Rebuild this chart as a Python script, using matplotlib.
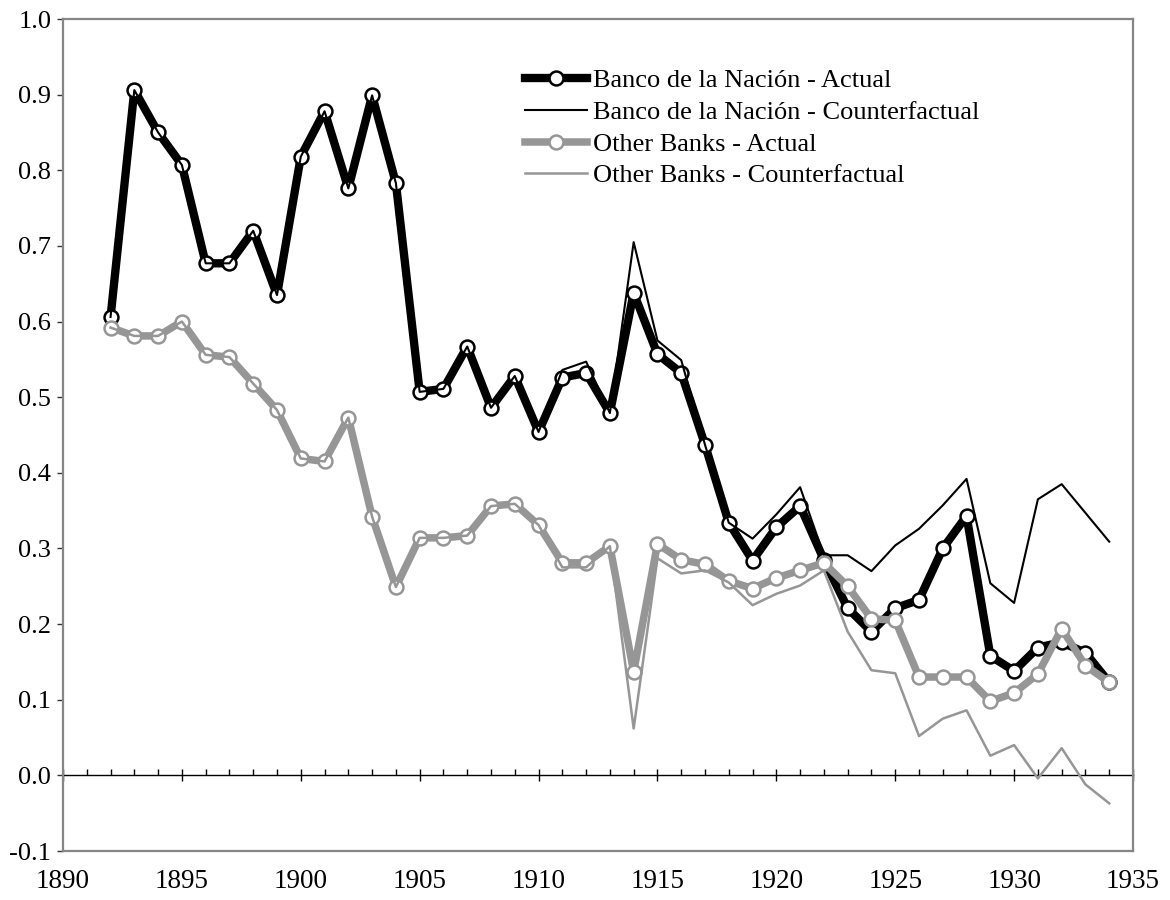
import matplotlib
matplotlib.use("Agg")
import matplotlib.pyplot as plt
from matplotlib.ticker import MultipleLocator, FuncFormatter

plt.rcParams['font.family'] = ['Liberation Serif', 'DejaVu Serif']

years = list(range(1892, 1935))

bn_actual = [0.606, 0.906, 0.850, 0.807, 0.677, 0.677, 0.720, 0.635, 0.818, 0.878,
             0.776, 0.899, 0.783, 0.507, 0.511, 0.567, 0.486, 0.528, 0.454, 0.526,
             0.532, 0.479, 0.638, 0.557, 0.532, 0.437, 0.334, 0.284, 0.328, 0.356,
             0.285, 0.221, 0.190, 0.221, 0.232, 0.300, 0.343, 0.158, 0.138, 0.169,
             0.176, 0.162, 0.123]

bn_cf = [0.606, 0.906, 0.850, 0.807, 0.677, 0.677, 0.720, 0.635, 0.818, 0.878,
         0.776, 0.899, 0.783, 0.507, 0.511, 0.567, 0.486, 0.528, 0.454, 0.536,
         0.547, 0.479, 0.705, 0.575, 0.549, 0.437, 0.334, 0.313, 0.345, 0.381,
         0.291, 0.291, 0.270, 0.304, 0.326, 0.357, 0.392, 0.254, 0.228, 0.365,
         0.385, 0.347, 0.309]

ob_actual = [0.592, 0.581, 0.581, 0.600, 0.556, 0.553, 0.518, 0.483, 0.419, 0.415,
             0.473, 0.342, 0.249, 0.314, 0.314, 0.317, 0.356, 0.359, 0.331, 0.281,
             0.281, 0.303, 0.137, 0.306, 0.285, 0.279, 0.257, 0.247, 0.261, 0.271,
             0.281, 0.250, 0.207, 0.205, 0.130, 0.130, 0.130, 0.098, 0.109, 0.134,
             0.194, 0.145, 0.123]

ob_cf = [0.592, 0.581, 0.581, 0.600, 0.556, 0.553, 0.518, 0.483, 0.419, 0.415,
         0.473, 0.342, 0.249, 0.314, 0.314, 0.317, 0.356, 0.359, 0.331, 0.275,
         0.275, 0.303, 0.062, 0.287, 0.267, 0.271, 0.255, 0.225, 0.240, 0.251,
         0.271, 0.190, 0.139, 0.135, 0.052, 0.075, 0.086, 0.026, 0.040, -0.004,
         0.036, -0.012, -0.037]

labels = ["Banco de la Nación - Actual", "Banco de la Nación - Counterfactual",
          "Other Banks - Actual", "Other Banks - Counterfactual"]

GRAY = "#969696"
SPINE = "#868686"

fig = plt.figure(figsize=(11.7, 9), dpi=100)
ax = fig.add_axes([63/1170, 1-851/900, (1133-63)/1170, (851-19)/900])

ax.plot(years, bn_actual, color="black", lw=6.0, marker="o", ms=10,
        mfc="white", mec="black", mew=1.8, label=labels[0], zorder=3)
ax.plot(years, bn_cf, color="black", lw=1.5, label=labels[1], zorder=4)
ax.plot(years, ob_actual, color=GRAY, lw=5.4, marker="o", ms=10,
        mfc="white", mec=GRAY, mew=1.8, label=labels[2], zorder=5)
ax.plot(years, ob_cf, color=GRAY, lw=1.8, label=labels[3], zorder=6)

ax.set_xlim(1890, 1935)
ax.set_ylim(-0.1, 1.0)

for s in ax.spines.values():
    s.set_color(SPINE)
    s.set_linewidth(1.6)

ax.yaxis.set_major_locator(MultipleLocator(0.1))
ax.yaxis.set_major_formatter(FuncFormatter(lambda v, p: f"{v:.1f}".replace("\u2212", "-")))
ax.tick_params(axis="y", direction="out", length=4.5, width=1, color="#333333",
               labelsize=19, pad=4)
ax.xaxis.set_major_locator(MultipleLocator(5))
ax.xaxis.set_major_formatter(FuncFormatter(lambda v, p: f"{int(round(v))}"))
ax.tick_params(axis="x", length=0, labelsize=19.5, pad=13)

# zero axis line with ticks
y0 = (0 - (-0.1)) / 1.1
sec = ax.secondary_xaxis(y0)
sec.spines["bottom"].set_color("black")
sec.spines["bottom"].set_linewidth(1.0)
sec.xaxis.set_major_locator(MultipleLocator(5))
sec.xaxis.set_minor_locator(MultipleLocator(1))
sec.tick_params(axis="x", which="major", direction="inout", length=8, width=1,
                color="black", labelbottom=False)
sec.tick_params(axis="x", which="minor", direction="in", length=4, width=1,
                color="black")

leg = ax.legend(loc="upper left", bbox_to_anchor=(525/1170, 1-69/900),
                bbox_transform=fig.transFigure, frameon=False, fontsize=19,
                handlelength=2.35, handletextpad=0.23, labelspacing=0.31,
                borderpad=0, borderaxespad=0)

fig.savefig("out.png", dpi=100)
